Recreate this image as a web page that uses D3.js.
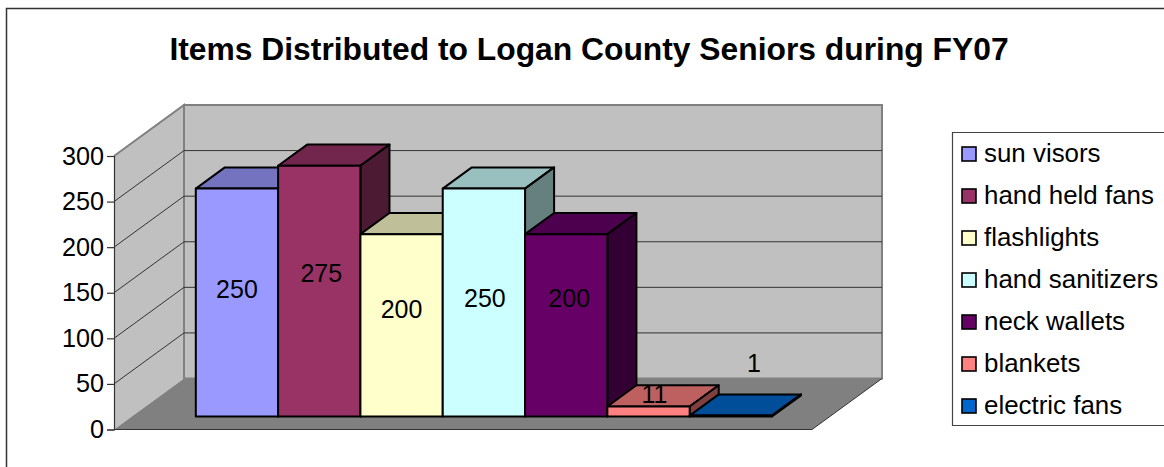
<!DOCTYPE html>
<html>
<head>
<meta charset="utf-8">
<script src="https://cdn.jsdelivr.net/npm/d3@7"></script>
<style>
  html, body { margin: 0; padding: 0; background: #fff; }
  svg { display: block; font-family: "Liberation Sans", Arial, sans-serif; }
  .tick text { font-size: 25.2px; fill: #000; }
</style>
</head>
<body>
<svg id="chart" width="1164" height="467"></svg>
<script>
const items = ['sun visors', 'hand held fans', 'flashlights', 'hand sanitizers', 'neck wallets', 'blankets', 'electric fans'];
const counts = [250, 275, 200, 250, 200, 11, 1];
const colors = ['#9999FF', '#993366', '#FFFFCC', '#CCFFFF', '#660066', '#FF8080', '#0066CC'];
const yTicks = [0, 50, 100, 150, 200, 250, 300];

const width = 1164;
const height = 467;

// 3d box of the plot, back wall is shifted by depthX/depthY from the front plane
const depthX = 70;
const depthY = -51;
const barFront = 0.255;
const barBack = 0.67;

const svg = d3.select('#chart');

const x = d3.scaleBand()
  .domain(items)
  .range([114, 812])
  .paddingInner(0)
  .paddingOuter(0.74)
  .align(0.525);

const y = d3.scaleLinear()
  .domain([0, 300])
  .range([429.5, 156]);

function project(px, value, z) {
  return [px + z * depthX, y(value) + z * depthY];
}

function poly(points) {
  return d3.line()(points) + 'Z';
}

function shade(color, k) {
  const c = d3.rgb(color);
  return d3.rgb(c.r * k, c.g * k, c.b * k).formatHex();
}

// chart frame
svg.append('path')
  .attr('d', `M6.5,${height}V8.5H${width}`)
  .attr('fill', 'none')
  .attr('stroke', '#333')
  .attr('stroke-width', 1.5);

svg.append('text')
  .attr('x', 589)
  .attr('y', 60)
  .attr('text-anchor', 'middle')
  .attr('font-size', 31.8)
  .attr('font-weight', 'bold')
  .text('Items Distributed to Logan County Seniors during FY07');

// walls and floor
const [x0, x1] = x.range();
const [v0, v1] = [0, 300];

svg.append('path')
  .attr('d', poly([project(x0, v0, 0), project(x0, v1, 0), project(x0, v1, 1), project(x0, v0, 1)]))
  .attr('fill', '#C0C0C0');
svg.append('path')
  .attr('d', poly([project(x0, v0, 1), project(x0, v1, 1), project(x1, v1, 1), project(x1, v0, 1)]))
  .attr('fill', '#C0C0C0')
  .attr('stroke', '#808080')
  .attr('stroke-width', 2);
svg.append('path')
  .attr('d', d3.line()([project(x0, v1, 0), project(x0, v1, 1), project(x0, v0, 1)]))
  .attr('fill', 'none')
  .attr('stroke', '#808080')
  .attr('stroke-width', 2);
svg.append('path')
  .attr('d', poly([project(x0, v0, 0), project(x0, v0, 1), project(x1, v0, 1), project(x1, v0, 0)]))
  .attr('fill', '#808080');
svg.append('path')
  .attr('d', d3.line()([project(x0, v0, 0), project(x1, v0, 0), project(x1, v0, 1)]))
  .attr('fill', 'none')
  .attr('stroke', '#333')
  .attr('stroke-width', 1);

// gridlines
svg.append('g')
  .selectAll('path')
  .data(yTicks.slice(1, -1))
  .enter()
  .append('path')
  .attr('d', d => d3.line()([project(x0, d, 0), project(x0, d, 1), project(x1, d, 1)]))
  .attr('fill', 'none')
  .attr('stroke', '#333')
  .attr('stroke-width', 1);

// y axis
const axis = svg.append('g')
  .attr('transform', `translate(${x0},0)`)
  .call(d3.axisLeft(y).tickValues(yTicks).tickSize(7).tickPadding(3));
axis.selectAll('path, line').attr('stroke', '#333').attr('stroke-width', 1.2);

// bars, left to right so each one covers the side of the previous
const bars = svg.append('g')
  .selectAll('g')
  .data(items)
  .enter()
  .append('g');

const barStroke = (sel) => sel
  .attr('stroke', '#000')
  .attr('stroke-width', 2)
  .attr('stroke-linejoin', 'round');

bars.each(function(d, i) {
  const g = d3.select(this);
  const left = x(d);
  const right = x(d) + x.bandwidth();
  const v = counts[i];

  g.append('path')
    .attr('d', poly([project(left, v, barFront), project(left, v, barBack), project(right, v, barBack), project(right, v, barFront)]))
    .attr('fill', shade(colors[i], 0.75))
    .call(barStroke);
  g.append('path')
    .attr('d', poly([project(right, 0, barFront), project(right, v, barFront), project(right, v, barBack), project(right, 0, barBack)]))
    .attr('fill', shade(colors[i], 0.5))
    .call(barStroke);
  g.append('path')
    .attr('d', poly([project(left, 0, barFront), project(left, v, barFront), project(right, v, barFront), project(right, 0, barFront)]))
    .attr('fill', colors[i])
    .call(barStroke);
});

// data labels, excel leaves them off centre so each has its own nudge
const labelNudgeX = [0, 2, 0, 1, 3, 6, 23];
const labelNudgeY = [-13, -18, -16, -4, -27, -17, -53];

svg.append('g')
  .selectAll('text')
  .data(items)
  .enter()
  .append('text')
  .attr('x', (d, i) => project(x(d) + x.bandwidth() / 2, 0, barFront)[0] + labelNudgeX[i])
  .attr('y', (d, i) => (project(0, 0, barFront)[1] + project(0, counts[i], barFront)[1]) / 2 + labelNudgeY[i])
  .attr('dy', '0.35em')
  .attr('text-anchor', 'middle')
  .attr('font-size', 25)
  .text((d, i) => counts[i]);

// legend
const legendRow = d3.scaleBand()
  .domain(items)
  .range([133, 427]);

svg.append('path')
  .attr('d', `M${width},132.5H952.5V425.5H${width}`)
  .attr('fill', '#fff')
  .attr('stroke', '#444')
  .attr('stroke-width', 1.2);

const legend = svg.append('g')
  .selectAll('g')
  .data(items)
  .enter()
  .append('g')
  .attr('transform', d => `translate(0,${legendRow(d) + legendRow.bandwidth() / 2})`);

legend.append('rect')
  .attr('x', 962)
  .attr('y', -7)
  .attr('width', 14)
  .attr('height', 14)
  .attr('fill', (d, i) => colors[i])
  .attr('stroke', '#000')
  .attr('stroke-width', 1.6);

legend.append('text')
  .attr('x', 984)
  .attr('dy', '0.3em')
  .attr('font-size', 25.9)
  .text(d => d);
</script>
</body>
</html>
